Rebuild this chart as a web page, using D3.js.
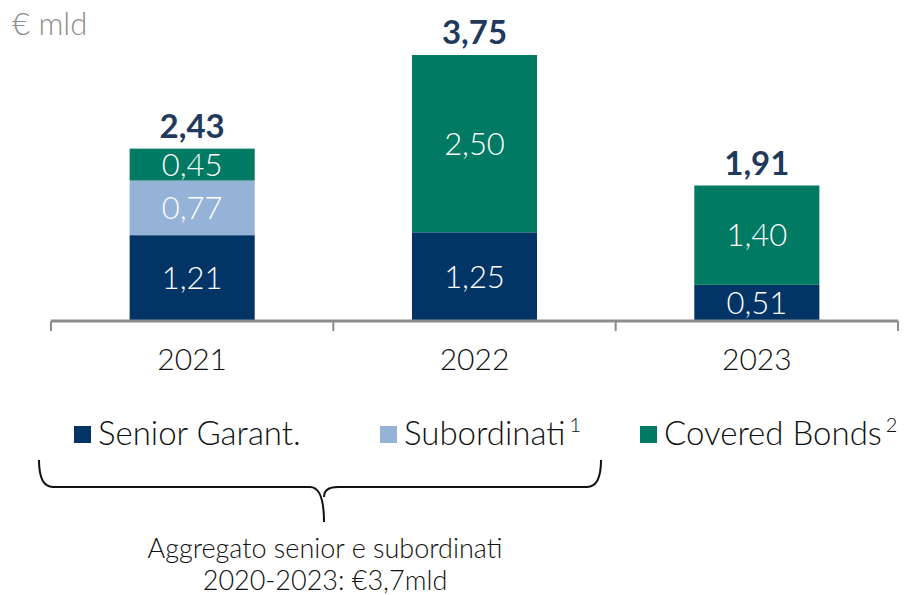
<!DOCTYPE html>
<html>
<head>
<meta charset="utf-8">
<script src="https://cdn.jsdelivr.net/npm/d3@7"></script>
<style>
  html, body { margin: 0; padding: 0; background: #fff; }
  svg text { font-family: Lato, "Open Sans", sans-serif; font-weight: 300; }
</style>
</head>
<body>
<svg id="chart" width="916" height="595"></svg>
<script>
// Issuance by year, € billions
const years = ["2021", "2022", "2023"];
const senior = [1.21, 1.25, 0.51];
const subordinati = [0.77, 0, 0];
const covered = [0.45, 2.50, 1.40];
const totals = [2.43, 3.75, 1.91];

const seriesKeys = ["senior", "subordinati", "covered"];
const seriesNames = ["Senior Garant.", "Subordinati", "Covered Bonds"];
const seriesNotes = ["", "1", "2"];
const colors = ["#023466", "#95B3D7", "#007A63"];

const unitLabel = "€ mld";
const braceNote = ["Aggregato senior e subordinati", "2020-2023: €3,7mld"];

const rows = years.map((yr, i) => ({
  year: yr, senior: senior[i], subordinati: subordinati[i], covered: covered[i], total: totals[i]
}));

const it = d3.formatLocale({ decimal: ",", thousands: ".", grouping: [3], currency: ["€", ""] });
const fmt = it.format(".2f");

const svg = d3.select("#chart");

const x = d3.scaleBand().domain(years).range([51, 898]).paddingInner(0.557).paddingOuter(0.2785);
const y = d3.scaleLinear().domain([0, d3.max(totals)]).range([321, 55]);

const stacked = d3.stack().keys(seriesKeys)(rows);

// bars
const layers = svg.append("g").selectAll("g").data(stacked).join("g")
  .attr("fill", (d, i) => colors[i]);

layers.selectAll("rect").data(d => d.filter(s => s[1] - s[0] > 0)).join("rect")
  .attr("x", d => x(d.data.year))
  .attr("width", x.bandwidth())
  .attr("y", d => y(d[1]))
  .attr("height", d => y(d[0]) - y(d[1]));

// segment values
layers.selectAll("text").data(d => d.filter(s => s[1] - s[0] > 0)).join("text")
  .attr("x", d => x(d.data.year) + x.bandwidth() / 2)
  .attr("y", d => (y(d[0]) + y(d[1])) / 2)
  .attr("dy", "0.36em")
  .attr("text-anchor", "middle")
  .attr("fill", "#fff")
  .attr("font-size", 31)
  .text(d => fmt(d[1] - d[0]));

// totals
svg.append("g").selectAll("text").data(rows).join("text")
  .attr("x", d => x(d.year) + x.bandwidth() / 2)
  .attr("y", d => y(d.total) - 11)
  .attr("text-anchor", "middle")
  .attr("fill", "#1F3A5C")
  .attr("font-size", 33)
  .style("font-weight", "bold")
  .text(d => fmt(d.total));

// category axis
const axis = svg.append("g").attr("transform", `translate(0,${y(0)})`)
  .call(d3.axisBottom(x).tickSize(0).tickPadding(28));
axis.select(".domain").attr("stroke", "#8C8C8C").attr("stroke-width", 3)
  .attr("d", `M${x.range()[0]},0H${x.range()[1]}`);
axis.selectAll(".tick text").attr("font-size", 30).attr("fill", "#111")
  .attr("font-family", "Lato, sans-serif");
const bounds = d3.range(years.length + 1).map(i => x.range()[0] + i * x.step());
axis.selectAll("line.sep").data(bounds).join("line").attr("class", "sep")
  .attr("x1", d => d).attr("x2", d => d).attr("y1", 0).attr("y2", 10)
  .attr("stroke", "#8C8C8C").attr("stroke-width", 2);

// unit label
svg.append("text").attr("x", 12).attr("y", 35)
  .attr("font-size", 31).attr("fill", "#8C8C8C").text(unitLabel);

// legend
const legendX = [74, 380, 640];
const legend = svg.append("g").selectAll("g").data(seriesNames).join("g")
  .attr("transform", (d, i) => `translate(${legendX[i]},426)`);
legend.append("rect").attr("width", 17).attr("height", 17)
  .attr("fill", (d, i) => colors[i]);
const lt = legend.append("text").attr("x", 24).attr("y", 19)
  .attr("font-size", 33).attr("fill", "#111");
lt.append("tspan").text(d => d);
lt.append("tspan").attr("dx", 4).attr("dy", -13).attr("font-size", 20)
  .text((d, i) => seriesNotes[i]);

// brace spanning senior + subordinati
const bx0 = 39, bx1 = 601, bmid = 324, btop = 460, bline = 487, btip = 522;
svg.append("path")
  .attr("fill", "none").attr("stroke", "#111").attr("stroke-width", 2)
  .attr("d", `M${bx0},${btop} Q${bx0},${bline} ${bx0 + 14},${bline}
              H${bmid - 14} Q${bmid},${bline} ${bmid},${btip}
              M${bmid},${bline + 10} Q${bmid},${bline} ${bmid + 14},${bline}
              H${bx1 - 14} Q${bx1},${bline} ${bx1},${btop}`);

svg.append("g").selectAll("text").data(braceNote).join("text")
  .attr("x", 325).attr("y", (d, i) => 558 + i * 32)
  .attr("text-anchor", "middle").attr("font-size", 27).attr("fill", "#111")
  .text(d => d);
</script>
</body>
</html>
